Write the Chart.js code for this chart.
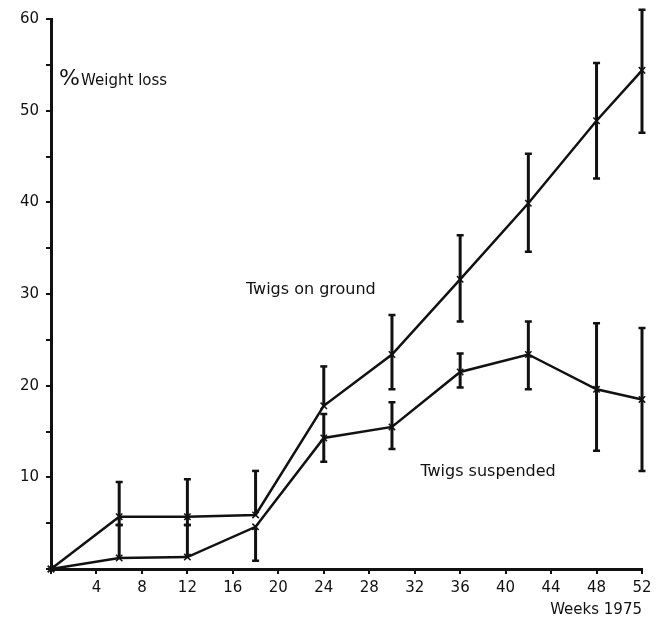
<!DOCTYPE html>
<html>
<head>
<meta charset="utf-8">
<script src="https://cdn.jsdelivr.net/npm/chart.js@4.4.1/dist/chart.umd.min.js"></script>
<style>
  html, body { margin: 0; padding: 0; background: #fff; }
  #wrap { width: 662px; height: 618px; }
</style>
</head>
<body>
<div id="wrap"><canvas id="lossChart" width="662" height="618"></canvas></div>
<script>
// weeks of sampling
const weeks = [0, 6, 12, 18, 24, 30, 36, 42, 48, 52];

// Twigs on ground
const ground = [0, 5.7, 5.7, 5.9, 17.8, 23.4, 31.6, 39.9, 48.9, 54.4];
const groundHigh = [0, 9.5, 9.8, 10.7, 22.1, 27.7, 36.4, 45.3, 55.2, 61.0];
const groundLow = [0, 4.8, 4.8, 5.9, 17.8, 19.6, 27.0, 34.6, 42.6, 47.6];

// Twigs suspended
const suspended = [0, 1.2, 1.3, 4.6, 14.3, 15.5, 21.5, 23.4, 19.6, 18.5];
const suspendedHigh = [0, 4.8, 4.8, 4.6, 16.9, 18.2, 23.5, 27.0, 26.8, 26.3];
const suspendedLow = [0, 1.2, 1.3, 0.9, 11.7, 13.1, 19.8, 19.6, 12.9, 10.7];

const xTicks = [4, 8, 12, 16, 20, 24, 28, 32, 36, 40, 44, 48, 52];
const yTicks = [10, 20, 30, 40, 50, 60];

const ink = "#111";
const fontFam = "'DejaVu Sans', sans-serif";

function toPoints(ys) {
  return weeks.map((w, i) => ({ x: w, y: ys[i] }));
}

// error bars drawn from the arrays through the chart scales
const errorBars = {
  id: "errorBars",
  afterDatasetsDraw(chart) {
    const { ctx, scales: { x, y } } = chart;
    const sets = [
      [ground, groundHigh, groundLow],
      [suspended, suspendedHigh, suspendedLow]
    ];
    ctx.save();
    ctx.strokeStyle = ink;
    sets.forEach(([vals, hi, lo]) => {
      weeks.forEach((w, i) => {
        if (hi[i] === vals[i] && lo[i] === vals[i]) return;
        const px = x.getPixelForValue(w);
        const pHi = y.getPixelForValue(hi[i]);
        const pLo = y.getPixelForValue(lo[i]);
        ctx.lineWidth = 3;
        ctx.beginPath();
        ctx.moveTo(px, pHi);
        ctx.lineTo(px, pLo);
        ctx.stroke();
        ctx.lineWidth = 2.5;
        ctx.beginPath();
        if (hi[i] !== vals[i]) { ctx.moveTo(px - 3.5, pHi); ctx.lineTo(px + 3.5, pHi); }
        if (lo[i] !== vals[i]) { ctx.moveTo(px - 3.5, pLo); ctx.lineTo(px + 3.5, pLo); }
        ctx.stroke();
      });
    });
    ctx.restore();
  }
};

// text labels inside the plot
const labels = {
  id: "labels",
  afterDraw(chart) {
    const { ctx, scales: { x, y } } = chart;
    ctx.save();
    ctx.fillStyle = ink;
    ctx.textBaseline = "alphabetic";
    ctx.textAlign = "left";
    ctx.font = "22px " + fontFam;
    ctx.fillText("%", x.getPixelForValue(0.7), y.getPixelForValue(52.8));
    ctx.font = "15px " + fontFam;
    ctx.fillText("Weight loss", x.getPixelForValue(2.65), y.getPixelForValue(52.8));
    ctx.font = "16px " + fontFam;
    ctx.fillText("Twigs on ground", x.getPixelForValue(17.15), y.getPixelForValue(30));
    ctx.fillText("Twigs suspended", x.getPixelForValue(32.5), y.getPixelForValue(10.1));
    ctx.font = "15px " + fontFam;
    ctx.textAlign = "right";
    ctx.fillText("Weeks 1975", x.right, chart.height - 4);
    ctx.restore();
  }
};

const config = {
  type: "line",
  data: {
    datasets: [
      {
        label: "Twigs on ground",
        data: toPoints(ground),
        borderColor: ink,
        borderWidth: 2.5,
        pointStyle: "crossRot",
        pointRadius: 4.5,
        pointBorderWidth: 1.5,
        pointBorderColor: ink,
        tension: 0,
        clip: false
      },
      {
        label: "Twigs suspended",
        data: toPoints(suspended),
        borderColor: ink,
        borderWidth: 2.5,
        pointStyle: "crossRot",
        pointRadius: 4.5,
        pointBorderWidth: 1.5,
        pointBorderColor: ink,
        tension: 0,
        clip: false
      }
    ]
  },
  options: {
    responsive: false,
    animation: false,
    layout: { padding: { top: 19, right: 20, left: 0, bottom: 0 } },
    plugins: {
      legend: { display: false },
      tooltip: { enabled: false }
    },
    scales: {
      x: {
        type: "linear",
        min: 0,
        max: 52,
        afterFit(scale) { scale.height = 49; },
        border: { color: ink, width: 3 },
        grid: { drawOnChartArea: false, color: ink, lineWidth: 2, tickLength: 5 },
        ticks: {
          stepSize: 4,
          color: ink,
          padding: 5,
          maxRotation: 0,
          font: { family: fontFam, size: 15 },
          callback: v => (xTicks.includes(v) ? v : "")
        }
      },
      y: {
        min: 0,
        max: 60,
        afterFit(scale) { scale.width = 51; },
        border: { color: ink, width: 3 },
        grid: { drawOnChartArea: false, color: ink, lineWidth: 2, tickLength: 5 },
        ticks: {
          stepSize: 5,
          color: ink,
          padding: 7,
          font: { family: fontFam, size: 15 },
          callback: v => (yTicks.includes(v) ? v : "")
        }
      }
    }
  },
  plugins: [errorBars, labels]
};

const lossChart = new Chart(document.getElementById("lossChart"), config);
</script>
</body>
</html>
